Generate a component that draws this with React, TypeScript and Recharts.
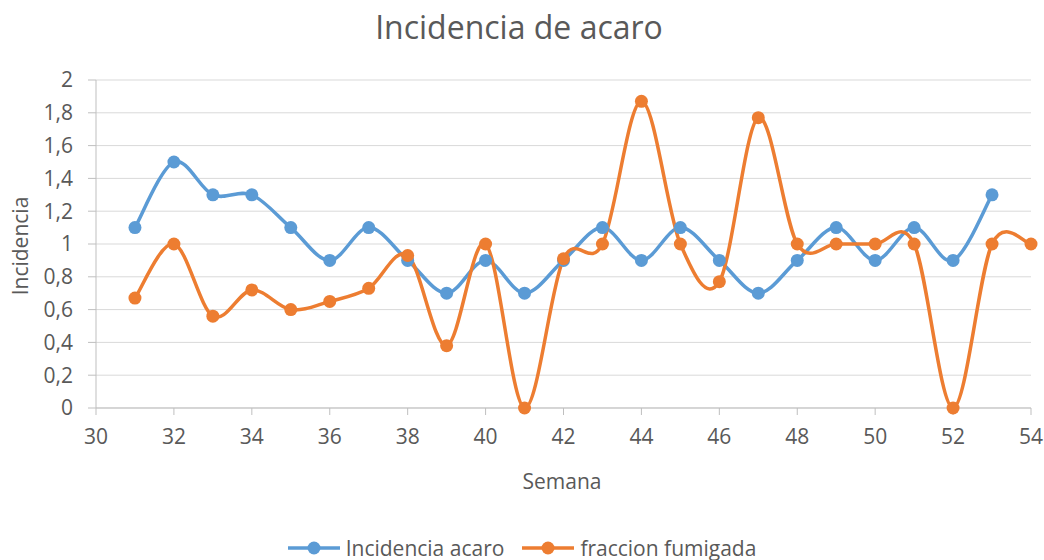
import React from 'react'
import { LineChart, Line, XAxis, YAxis, CartesianGrid } from 'recharts'

const semanas = [31, 32, 33, 34, 35, 36, 37, 38, 39, 40, 41, 42, 43, 44, 45, 46, 47, 48, 49, 50, 51, 52, 53, 54]
const incidenciaAcaro = [1.1, 1.5, 1.3, 1.3, 1.1, 0.9, 1.1, 0.9, 0.7, 0.9, 0.7, 0.9, 1.1, 0.9, 1.1, 0.9, 0.7, 0.9, 1.1, 0.9, 1.1, 0.9, 1.3]
const fraccionFumigada = [0.67, 1, 0.56, 0.72, 0.6, 0.65, 0.73, 0.93, 0.38, 1, 0, 0.91, 1, 1.87, 1, 0.77, 1.77, 1, 1, 1, 1, 0, 1, 1]
const xTicks = [30, 32, 34, 36, 38, 40, 42, 44, 46, 48, 50, 52, 54]
const yTicks = [0, 0.2, 0.4, 0.6, 0.8, 1, 1.2, 1.4, 1.6, 1.8, 2]

const data = semanas.map((s, i) => ({
  semana: s,
  incidencia: i < incidenciaAcaro.length ? incidenciaAcaro[i] : null,
  fraccion: fraccionFumigada[i],
}))

const BLUE = '#5B9BD5'
const ORANGE = '#ED7D31'
const TEXT = '#595959'
const FONT = '"Open Sans", sans-serif'

// curva suavizada tipo Excel (Catmull-Rom)
const excelSmooth = (context: any) => {
  let xs: number[] = []
  let ys: number[] = []
  return {
    areaStart() {},
    areaEnd() {},
    lineStart() {
      xs = []
      ys = []
    },
    point(x: number, y: number) {
      xs.push(+x)
      ys.push(+y)
    },
    lineEnd() {
      const n = xs.length
      if (!n) return
      context.moveTo(xs[0], ys[0])
      for (let i = 0; i < n - 1; i++) {
        const a = Math.max(i - 1, 0)
        const d = Math.min(i + 2, n - 1)
        context.bezierCurveTo(
          xs[i] + (xs[i + 1] - xs[a]) / 6,
          ys[i] + (ys[i + 1] - ys[a]) / 6,
          xs[i + 1] - (xs[d] - xs[i]) / 6,
          ys[i + 1] - (ys[d] - ys[i]) / 6,
          xs[i + 1],
          ys[i + 1]
        )
      }
    },
  }
}

function LegendItem({ color, label }: { color: string; label: string }) {
  return (
    <div style={{ display: 'flex', alignItems: 'center', gap: 6 }}>
      <svg width={52} height={16}>
        <line x1={0} y1={8} x2={52} y2={8} stroke={color} strokeWidth={3.5} />
        <circle cx={26} cy={8} r={6.5} fill={color} />
      </svg>
      <span>{label}</span>
    </div>
  )
}

export default function App() {
  return (
    <div style={{ position: 'relative', width: 1044, height: 560, background: '#fff', fontFamily: FONT, color: TEXT }}>
      <style>{'body{margin:0}'}</style>
      <div style={{ position: 'absolute', top: 26, left: 519, fontSize: 32, transform: 'translate(-50%, -50%)', whiteSpace: 'nowrap' }}>
        Incidencia de acaro
      </div>
      <div
        style={{
          position: 'absolute',
          left: 20,
          top: 246,
          fontSize: 21,
          transform: 'translate(-50%, -50%) rotate(-90deg)',
          whiteSpace: 'nowrap',
        }}
      >
        Incidencia
      </div>
      <div style={{ position: 'absolute', left: 562, top: 481, fontSize: 21, transform: 'translate(-50%, -50%)' }}>
        Semana
      </div>
      <div
        style={{
          position: 'absolute',
          top: 548,
          left: 0,
          width: 1044,
          transform: 'translateY(-50%)',
          display: 'flex',
          justifyContent: 'center',
          gap: 18,
          fontSize: 21,
        }}
      >
        <LegendItem color={BLUE} label="Incidencia acaro" />
        <LegendItem color={ORANGE} label="fraccion fumigada" />
      </div>
      <div style={{ position: 'absolute', left: 0, top: 0 }}>
        <LineChart width={1044} height={560} data={data} margin={{ top: 80, right: 13, left: 16, bottom: 122 }}>
          <CartesianGrid vertical={false} stroke="#d9d9d9" />
          <XAxis
            dataKey="semana"
            type="number"
            domain={[30, 54]}
            ticks={xTicks}
            interval={0}
            height={30}
            stroke="#bfbfbf"
            tickSize={7}
            tickMargin={14}
            tick={{ fill: TEXT, fontSize: 21, fontFamily: FONT }}
          />
          <YAxis
            domain={[0, 2]}
            ticks={yTicks}
            interval={0}
            width={80}
            stroke="#bfbfbf"
            tickSize={8}
            tickMargin={15}
            tickFormatter={(v: number) => String(v).replace('.', ',')}
            tick={{ fill: TEXT, fontSize: 21, fontFamily: FONT }}
          />
          <Line
            dataKey="incidencia"
            type={excelSmooth as any}
            stroke={BLUE}
            strokeWidth={3.5}
            dot={{ r: 6.5, fill: BLUE, stroke: BLUE, strokeWidth: 0 }}
            isAnimationActive={false}
          />
          <Line
            dataKey="fraccion"
            type={excelSmooth as any}
            stroke={ORANGE}
            strokeWidth={3.5}
            dot={{ r: 6.5, fill: ORANGE, stroke: ORANGE, strokeWidth: 0 }}
            isAnimationActive={false}
          />
        </LineChart>
      </div>
    </div>
  )
}
